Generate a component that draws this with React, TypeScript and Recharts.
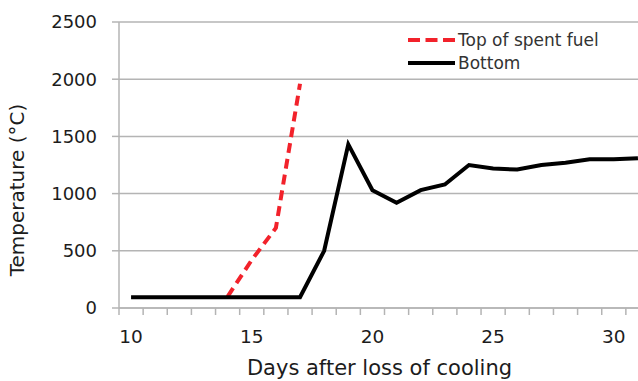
import React from "react";
import {
  LineChart,
  Line,
  XAxis,
  YAxis,
  CartesianGrid,
  Legend,
  Label,
} from "recharts";

// days after loss of cooling
const days = [10, 11, 12, 13, 14, 15, 16, 17, 18, 19, 20, 21, 22, 23, 24, 25, 26, 27, 28, 29, 30, 31];

// temperature, deg C (null = not simulated)
const topTemps = [null, null, null, null, 100, 420, 700, 1960, null, null, null, null, null, null, null, null, null, null, null, null, null, null];
const bottomTemps = [95, 95, 95, 95, 95, 95, 95, 95, 500, 1430, 1030, 920, 1030, 1080, 1250, 1220, 1210, 1250, 1270, 1300, 1300, 1310];

const xTickLabels = [10, 15, 20, 25, 30];
const yTicks = [0, 500, 1000, 1500, 2000, 2500];

const series = [
  { key: "top", name: "Top of spent fuel", color: "#f2222b", dash: "10 6", legendDash: "12 5.5" },
  { key: "bottom", name: "Bottom", color: "#000000", dash: undefined, legendDash: undefined },
];

const data = days.map((d, i) => ({ day: d, top: topTemps[i], bottom: bottomTemps[i] }));

// tick marks sit on the day boundaries, labels on the days themselves
const boundaries = [...days.map((d) => d - 0.5), days[days.length - 1] + 0.5];
const xTicks = [...boundaries, ...xTickLabels].sort((a, b) => a - b);

const FONT = "'DejaVu Sans', sans-serif";
const GRID = "#b4b4b4";
const TEXT = "#1c1c1c";

function XTick(props: any) {
  const { x, y, payload } = props;
  const v = payload.value;
  if (xTickLabels.includes(v)) {
    return (
      <text x={x} y={y + 35} textAnchor="middle" fontFamily={FONT} fontSize={18.5} fill={TEXT}>
        {v}
      </text>
    );
  }
  return <line x1={x} x2={x} y1={y} y2={y + 7} stroke={GRID} strokeWidth={1.5} />;
}

function renderLegend() {
  return (
    <div style={{ fontFamily: FONT, fontSize: 17, color: "#333" }}>
      {series.map((s) => (
        <div key={s.key} style={{ display: "flex", alignItems: "center", height: 23 }}>
          <svg width={50} height={10} style={{ display: "block" }}>
            <line x1={0} x2={47} y1={5} y2={5} stroke={s.color} strokeWidth={4} strokeDasharray={s.legendDash} />
          </svg>
          <span style={{ whiteSpace: "nowrap" }}>{s.name}</span>
        </div>
      ))}
    </div>
  );
}

export default function App() {
  return (
    <div
      style={{
        position: "fixed",
        left: 0,
        top: 0,
        width: 638,
        height: 381,
        overflow: "hidden",
        background: "#fff",
      }}
    >
      <LineChart width={660} height={381} data={data} margin={{ top: 22, right: 10, left: 0, bottom: 0 }}>
        <CartesianGrid vertical={false} stroke={GRID} strokeWidth={1.5} />
        <XAxis
          dataKey="day"
          type="number"
          domain={[9.5, 31.5]}
          ticks={xTicks}
          interval={0}
          tick={<XTick />}
          tickLine={false}
          tickSize={0}
          tickMargin={0}
          height={73}
          axisLine={{ stroke: GRID, strokeWidth: 1.5 }}
        >
          <Label
            content={(p: any) => {
              const vb = p.viewBox;
              return (
                <text
                  x={vb.x + vb.width / 2 - 5}
                  y={vb.y + 67}
                  textAnchor="middle"
                  fontFamily={FONT}
                  fontSize={21}
                  fill={TEXT}
                >
                  Days after loss of cooling
                </text>
              );
            }}
          />
        </XAxis>
        <YAxis
          width={119}
          domain={[0, 2500]}
          ticks={yTicks}
          interval={0}
          tickSize={7}
          tickMargin={15}
          tick={{ fontFamily: FONT, fontSize: 18, fill: TEXT }}
          tickLine={{ stroke: GRID, strokeWidth: 1.5 }}
          axisLine={{ stroke: GRID, strokeWidth: 1.5 }}
        >
          <Label
            content={(p: any) => {
              const vb = p.viewBox;
              const cx = 17;
              const cy = vb.y + vb.height / 2 + 25;
              return (
                <text
                  x={cx}
                  y={cy}
                  textAnchor="middle"
                  dominantBaseline="central"
                  transform={`rotate(-90, ${cx}, ${cy})`}
                  fontFamily={FONT}
                  fontSize={20}
                  fill={TEXT}
                >
                  Temperature (°C)
                </text>
              );
            }}
          />
        </YAxis>
        <Legend
          layout="vertical"
          align="center"
          verticalAlign="middle"
          content={renderLegend}
          wrapperStyle={{ top: 28, left: 408, width: 230 }}
        />
        {series.map((s) => (
          <Line
            key={s.key}
            dataKey={s.key}
            name={s.name}
            type="linear"
            stroke={s.color}
            strokeWidth={4}
            strokeDasharray={s.dash}
            dot={false}
            activeDot={false}
            isAnimationActive={false}
          />
        ))}
      </LineChart>
    </div>
  );
}
